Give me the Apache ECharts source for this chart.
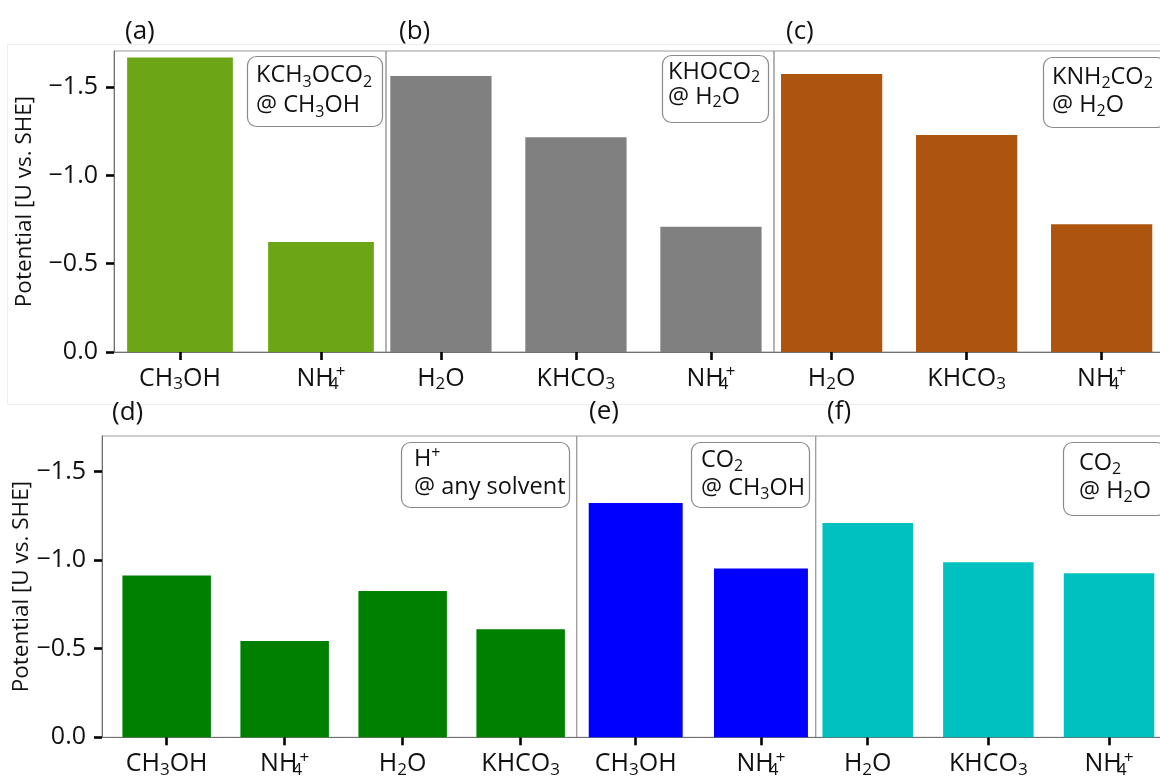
<!DOCTYPE html>
<html>
<head>
<meta charset="utf-8">
<title>Reduction potentials</title>
<script src="https://cdn.jsdelivr.net/npm/echarts@6/dist/echarts.min.js"></script>
<style>
  html, body { margin: 0; padding: 0; background: #ffffff; }
  #chart { width: 1160px; height: 781px; }
</style>
</head>
<body>
<div id="chart"></div>
<script>
// ---- data -------------------------------------------------------------
const catsA = ['CH3OH', 'NH4+'];
const valsA = [-1.668, -0.623];
const catsB = ['H2O', 'KHCO3', 'NH4+'];
const valsB = [-1.564, -1.216, -0.710];
const catsC = ['H2O', 'KHCO3', 'NH4+'];
const valsC = [-1.575, -1.229, -0.723];
const catsD = ['CH3OH', 'NH4+', 'H2O', 'KHCO3'];
const valsD = [-0.913, -0.543, -0.826, -0.610];
const catsE = ['CH3OH', 'NH4+'];
const valsE = [-1.322, -0.952];
const catsF = ['H2O', 'KHCO3', 'NH4+'];
const valsF = [-1.209, -0.988, -0.926];

const yTicks = [-1.5, -1.0, -0.5, 0.0];
const yName = 'Potential [U vs. SHE]';
const panelTags = ['(a)', '(b)', '(c)', '(d)', '(e)', '(f)'];
const boxTexts = [
  'KCH3OCO2\n@ CH3OH',
  'KHOCO2\n@ H2O',
  'KNH2CO2\n@ H2O',
  'H+\n@ any solvent',
  'CO2\n@ CH3OH',
  'CO2\n@ H2O'
];

// ---- layout & style ---------------------------------------------------
const FONT = '"Open Sans", "DejaVu Sans", sans-serif';
const INK = '#111111';
const FRAME = '#9a9a9a';
const SPINE = '#707070';
const BAR_FRAC = 0.75;
const TICK_FS = 25;
const BOX_FS = 23.5;

const ROWS = [
  { top: 51, height: 301, yMin: -1.705 },
  { top: 436, height: 301.3, yMin: -1.70 }
];

const PANELS = [
  { cats: catsA, vals: valsA, color: '#6ca617', row: 0, left: 114,   width: 272,   xMin: -0.468, xMax: 1.461, yAxis: true, nameGap: 78 },
  { cats: catsB, vals: valsB, color: '#808080', row: 0, left: 386,   width: 388,   xMin: -0.407, xMax: 2.467 },
  { cats: catsC, vals: valsC, color: '#ad550e', row: 0, left: 774,   width: 388,   xMin: -0.427, xMax: 2.447 },
  { cats: catsD, vals: valsD, color: '#008000', row: 1, left: 102,   width: 474.7, xMin: -0.548, xMax: 3.475, yAxis: true, nameGap: 66 },
  { cats: catsE, vals: valsE, color: '#0000ff', row: 1, left: 576.7, width: 239,   xMin: -0.471, xMax: 1.437 },
  { cats: catsF, vals: valsF, color: '#00c0c0', row: 1, left: 815.7, width: 346.3, xMin: -0.431, xMax: 2.439 }
];

// panel tag anchors and annotation boxes [x, y, w, h, textX, textY, lineHeight]
const TAG_POS = [[125, 32], [399, 32], [786, 32], [112, 413], [589, 412], [827, 412]];
const BOXES = [
  [247, 56, 135, 70, 256, 60, 30],
  [662, 55, 106, 67, 668, 60, 25],
  [1043, 57, 122, 70, 1052, 63, 28],
  [401, 442, 168, 65, 414, 445.5, 28],
  [691, 442, 118, 65, 701, 446.5, 28],
  [1063, 442, 102, 73, 1079, 449, 28]
];

// turn a formula such as "NH4+" into rich-text markup with sub/superscripts;
// a charge that follows a subscript digit is stacked above it
function chem(s) {
  return s.split('\n').map(function (line) {
    return line.replace(/(\d)\+|(\d)|\+/g, function (m, dPlus, d) {
      if (dPlus) return '{s0|' + dPlus + '}{p1|+}';
      if (d) return '{s|' + d + '}';
      return '{p|+}';
    });
  }).join('\n');
}

function scriptRich(size, colorKey) {
  const sub = Math.round(size * 0.68);
  const base = { fontSize: sub, lineHeight: sub, fontFamily: FONT };
  base[colorKey] = INK;
  return {
    s:  Object.assign({}, base, { verticalAlign: 'bottom' }),
    s0: Object.assign({}, base, { verticalAlign: 'bottom', width: 0.1, align: 'left' }),
    p:  Object.assign({}, base, { verticalAlign: 'top' }),
    p1: Object.assign({}, base, { verticalAlign: 'top', padding: [0, 0, 0, 2] })
  };
}

function fmtY(v) {
  return v === 0 ? '0.0' : '\u2212' + Math.abs(v).toFixed(1);
}

const grids = [], xAxes = [], yAxes = [], series = [];
PANELS.forEach(function (p, i) {
  const row = ROWS[p.row];
  grids.push({
    left: p.left, top: row.top, width: p.width, height: row.height,
    show: true, borderColor: FRAME, borderWidth: 1, backgroundColor: 'transparent',
    containLabel: false, outerBoundsMode: 'none'
  });
  const ticks = p.cats.map(function (c, k) { return k; });
  xAxes.push({
    type: 'value', gridIndex: i, min: p.xMin, max: p.xMax,
    splitLine: { show: false },
    axisLine: { show: true, onZero: false, lineStyle: { color: SPINE, width: 1 } },
    axisTick: { show: true, customValues: ticks, length: 8, lineStyle: { color: '#000', width: 2.6 } },
    axisLabel: {
      show: true, customValues: ticks, margin: 12,
      fontSize: TICK_FS, lineHeight: 29, fontFamily: FONT, color: INK,
      formatter: function (v) { return chem(p.cats[Math.round(v)]); },
      rich: scriptRich(TICK_FS, 'color')
    }
  });
  yAxes.push({
    type: 'value', gridIndex: i, min: row.yMin, max: 0, inverse: true,
    show: !!p.yAxis,
    name: p.yAxis ? yName : '', nameLocation: 'middle', nameGap: p.nameGap || 0,
    nameTextStyle: { fontSize: 22.5, fontFamily: FONT, color: INK },
    splitLine: { show: false },
    axisLine: { show: true, onZero: false, lineStyle: { color: SPINE, width: 1 } },
    axisTick: { show: true, customValues: yTicks, length: 8, lineStyle: { color: '#000', width: 2.6 } },
    axisLabel: {
      show: true, customValues: yTicks, margin: 16,
      fontSize: TICK_FS, fontFamily: FONT, color: INK, formatter: fmtY
    }
  });
  series.push({
    type: 'bar', xAxisIndex: i, yAxisIndex: i,
    barWidth: BAR_FRAC * p.width / (p.xMax - p.xMin),
    itemStyle: { color: p.color },
    data: p.vals.map(function (v, k) { return [k, v]; }),
    silent: true, animation: false
  });
});

const graphics = [
  // faint outline of the upper figure block
  { type: 'rect', shape: { x: 7.5, y: 44.5, width: 1160, height: 360 },
    style: { fill: 'none', stroke: '#efefef', lineWidth: 1 }, z: -10, silent: true }
];
panelTags.forEach(function (t, i) {
  graphics.push({
    type: 'text', x: TAG_POS[i][0], y: TAG_POS[i][1], silent: true,
    style: { text: t, fontSize: 26, fontFamily: FONT, fill: INK, verticalAlign: 'middle', align: 'left' }
  });
});
boxTexts.forEach(function (t, i) {
  const b = BOXES[i];
  graphics.push({
    type: 'rect', silent: true, z: 10,
    shape: { x: b[0] + 0.5, y: b[1] + 0.5, width: b[2], height: b[3], r: 9 },
    style: { fill: '#ffffff', stroke: '#8a8a8a', lineWidth: 1.2 }
  });
  graphics.push({
    type: 'text', silent: true, z: 11, x: b[4], y: b[5],
    style: {
      text: chem(t), fontSize: BOX_FS, fontFamily: FONT, fill: INK,
      lineHeight: b[6], align: 'left', verticalAlign: 'top',
      rich: scriptRich(BOX_FS, 'fill')
    }
  });
});

const chart = echarts.init(document.getElementById('chart'), null, { renderer: 'canvas' });
chart.setOption({
  backgroundColor: '#ffffff',
  animation: false,
  grid: grids,
  xAxis: xAxes,
  yAxis: yAxes,
  series: series,
  graphic: graphics
});
</script>
</body>
</html>
